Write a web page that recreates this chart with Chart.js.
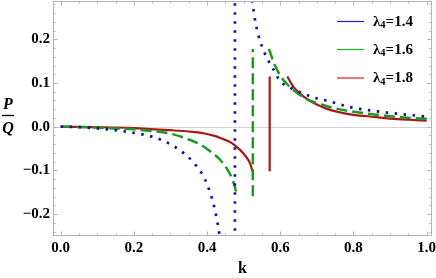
<!DOCTYPE html>
<html>
<head>
<meta charset="utf-8">
<script src="https://cdn.jsdelivr.net/npm/chart.js@4.4.1/dist/chart.umd.min.js"></script>
<style>
  html, body { margin: 0; padding: 0; background: #fff; }
</style>
</head>
<body>
<canvas id="pq" width="436" height="278"></canvas>
<script>
// tick labels
const xTicks = [0, 0.2, 0.4, 0.6, 0.8, 1.0];
const yTicks = [-0.2, -0.1, 0, 0.1, 0.2];

// lambda4 = 1.4 (blue, dotted)
const k14Left = [0, 0.05, 0.1, 0.15, 0.2, 0.25, 0.28, 0.31, 0.34, 0.36, 0.38, 0.395, 0.41, 0.42, 0.428, 0.434, 0.44];
const p14Left = [0, -0.001, -0.004, -0.008, -0.014, -0.023, -0.032, -0.045, -0.063, -0.079, -0.100, -0.122, -0.155, -0.185, -0.218, -0.248, -0.285];
const k14Jump = [0.476, 0.476];
const p14Jump = [-0.3, 0.35];
const k14Right = [0.519, 0.525, 0.533, 0.546, 0.565, 0.578, 0.6, 0.63, 0.66, 0.69, 0.73, 0.79, 0.865, 0.94, 1.0];
const p14Right = [0.31, 0.277, 0.235, 0.193, 0.155, 0.136, 0.104, 0.088, 0.077, 0.067, 0.059, 0.045, 0.035, 0.028, 0.023];

// lambda4 = 1.6 (green, dashed)
const k16Left = [0, 0.05, 0.1, 0.15, 0.2, 0.25, 0.3, 0.34, 0.38, 0.41, 0.435, 0.455, 0.468, 0.476, 0.481];
const p16Left = [0, -0.0005, -0.002, -0.004, -0.006, -0.010, -0.016, -0.026, -0.040, -0.057, -0.075, -0.097, -0.118, -0.138, -0.157];
const k16Jump = [0.525, 0.525];
const p16Jump = [-0.159, 0.178];
const k16Right = [0.569, 0.583, 0.6, 0.62, 0.64, 0.67, 0.7, 0.75, 0.82, 0.88, 0.94, 1.0];
const p16Right = [0.178, 0.145, 0.117, 0.096, 0.081, 0.064, 0.054, 0.042, 0.032, 0.026, 0.021, 0.018];

// lambda4 = 1.8 (red, solid)
const k18Left = [0, 0.1, 0.2, 0.3, 0.35, 0.39, 0.42, 0.44, 0.46, 0.475, 0.49, 0.5, 0.51, 0.518, 0.524];
const p18Left = [0, -0.001, -0.003, -0.008, -0.011, -0.015, -0.021, -0.027, -0.034, -0.042, -0.053, -0.062, -0.073, -0.085, -0.102];
const k18Jump = [0.571, 0.571];
const p18Jump = [-0.102, 0.115];
const k18Right = [0.619, 0.637, 0.665, 0.701, 0.738, 0.8, 0.84, 0.893, 0.95, 1.0];
const p18Right = [0.115, 0.090, 0.068, 0.050, 0.038, 0.027, 0.024, 0.019, 0.016, 0.0136];

const legendLabels = ['1.4', '1.6', '1.8'];
const legendColors = ['#1c1cf0', '#1cb81c', '#e41c1c'];

const serif = 'Liberation Serif';

const pts = (ks, ps) => ks.map((k, i) => ({ x: k, y: ps[i] }));

const blue = { borderColor: '#1010a8', borderWidth: 2.7, borderDash: [2.5, 6.5] };
const green = { borderColor: '#1c9a1c', borderWidth: 2.5, borderDash: [11, 5] };
const red = { borderColor: '#a81818', borderWidth: 2.2, borderDash: [] };

function curve(style, ks, ps, smooth) {
  return Object.assign({
    data: pts(ks, ps),
    pointRadius: 0,
    fill: false,
    tension: smooth ? 0.4 : 0,
    cubicInterpolationMode: smooth ? 'monotone' : 'default'
  }, style);
}

const fmt = v => {
  const s = Number(v).toFixed(1);
  if (s === '-0.0') return '0.0';
  return s.replace('-', '\u2212');
};

const framePlugin = {
  id: 'frame',
  beforeDatasetsDraw(chart) {
    const { ctx, chartArea: a, scales: { y } } = chart;
    const y0 = Math.round(y.getPixelForValue(0)) + 0.5;
    ctx.save();
    ctx.strokeStyle = '#d6d6d6';
    ctx.lineWidth = 1;
    ctx.beginPath();
    ctx.moveTo(a.left, y0);
    ctx.lineTo(a.right, y0);
    ctx.stroke();
    ctx.restore();
  },
  afterDatasetsDraw(chart) {
    const { ctx, chartArea: a, scales: { x, y } } = chart;
    ctx.save();
    ctx.strokeStyle = '#b4b4b4';
    ctx.lineWidth = 1;
    ctx.strokeRect(a.left + 0.5, a.top + 0.5, a.width - 1, a.height - 1);
    ctx.beginPath();
    for (let i = 0; i <= 20; i++) {
      const v = i * 0.05;
      const px = Math.round(x.getPixelForValue(v)) + 0.5;
      const len = i % 4 === 0 ? 4.5 : 2.5;
      ctx.moveTo(px, a.bottom); ctx.lineTo(px, a.bottom - len);
      ctx.moveTo(px, a.top); ctx.lineTo(px, a.top + len);
    }
    for (let i = -12; i <= 14; i++) {
      const v = i * 0.02;
      const py = Math.round(y.getPixelForValue(v)) + 0.5;
      if (py < a.top || py > a.bottom) continue;
      const len = i % 5 === 0 ? 4.5 : 2.5;
      ctx.moveTo(a.left, py); ctx.lineTo(a.left + len, py);
      ctx.moveTo(a.right, py); ctx.lineTo(a.right - len, py);
    }
    ctx.stroke();
    ctx.restore();
  },
  afterDraw(chart) {
    const { ctx } = chart;
    ctx.save();
    // y axis title as a fraction P / Q
    ctx.fillStyle = '#000';
    ctx.font = 'italic bold 16px ' + serif;
    ctx.textAlign = 'center';
    ctx.textBaseline = 'alphabetic';
    ctx.fillText('P', 8, 109);
    ctx.fillText('Q', 8, 133);
    ctx.strokeStyle = '#000';
    ctx.lineWidth = 1.4;
    ctx.beginPath();
    ctx.moveTo(2, 115.5);
    ctx.lineTo(14, 115.5);
    ctx.stroke();

    // legend
    const rows = [21, 49, 77.5];
    ctx.textAlign = 'left';
    legendLabels.forEach((lab, i) => {
      const yy = rows[i];
      ctx.strokeStyle = legendColors[i];
      ctx.lineWidth = 1.2;
      ctx.beginPath();
      ctx.moveTo(337, yy + 0.5);
      ctx.lineTo(364, yy + 0.5);
      ctx.stroke();
      let tx = 373;
      const base = yy + 4.5;
      ctx.fillStyle = '#000';
      ctx.font = 'bold 15px ' + serif;
      ctx.fillText('\u03bb', tx, base);
      tx += ctx.measureText('\u03bb').width;
      ctx.font = 'bold 10.5px ' + serif;
      ctx.fillText('4', tx, base + 2.5);
      tx += ctx.measureText('4').width;
      ctx.font = 'bold 15px ' + serif;
      ctx.fillText('=' + lab, tx, base);
    });
    ctx.restore();
  }
};

new Chart(document.getElementById('pq').getContext('2d'), {
  type: 'line',
  data: {
    datasets: [
      curve(blue, k14Left, p14Left, true),
      curve(blue, k14Jump, p14Jump, false),
      curve(blue, k14Right, p14Right, true),
      curve(green, k16Left, p16Left, true),
      curve(green, k16Jump, p16Jump, false),
      curve(green, k16Right, p16Right, true),
      curve(red, k18Left, p18Left, true),
      curve(red, k18Jump, p18Jump, false),
      curve(red, k18Right, p18Right, true)
    ]
  },
  options: {
    responsive: false,
    animation: false,
    layout: { padding: { left: 0, right: 4, top: 1, bottom: 0 } },
    plugins: {
      legend: { display: false },
      tooltip: { enabled: false }
    },
    scales: {
      x: {
        type: 'linear',
        min: -0.021,
        max: 1.0145,
        afterBuildTicks: s => { s.ticks = xTicks.map(v => ({ value: v })); },
        afterFit: s => { s.height = 42; s.paddingLeft = 0; s.paddingRight = 0; },
        grid: { display: false, drawTicks: false },
        border: { display: false },
        ticks: {
          autoSkip: false,
          maxRotation: 0,
          padding: 3,
          color: '#000',
          font: { family: serif, weight: 'bold', size: 15 },
          callback: v => fmt(v)
        },
        title: {
          display: true,
          text: 'k',
          color: '#000',
          font: { family: serif, weight: 'bold', size: 16 },
          padding: { top: 0, bottom: 0 }
        }
      },
      y: {
        type: 'linear',
        min: -0.25,
        max: 0.2876,
        afterBuildTicks: s => { s.ticks = yTicks.map(v => ({ value: v })); },
        afterFit: s => { s.width = 53; s.paddingTop = 0; s.paddingBottom = 0; },
        grid: { display: false, drawTicks: false },
        border: { display: false },
        ticks: {
          autoSkip: false,
          padding: 3,
          color: '#000',
          font: { family: serif, weight: 'bold', size: 15 },
          callback: v => fmt(v)
        }
      }
    }
  },
  plugins: [framePlugin]
});
</script>
</body>
</html>
